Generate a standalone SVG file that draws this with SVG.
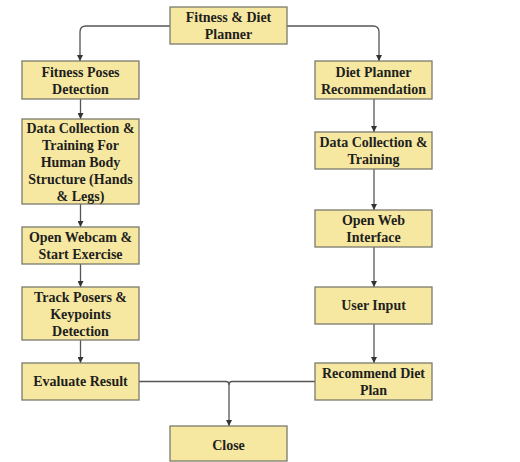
<svg xmlns="http://www.w3.org/2000/svg" width="520" height="462" viewBox="0 0 520 462">
<style>
.box{fill:#F6E8A0;stroke:#7a7a6a;stroke-width:1.3}
.t{font-family:"Liberation Serif","Times New Roman",serif;font-weight:bold;font-size:14px;fill:#1e1e1e;text-anchor:middle;dominant-baseline:central}
.c{fill:none;stroke:#555;stroke-width:1.3}
</style>
<defs>
<marker id="ah" markerUnits="userSpaceOnUse" markerWidth="6" markerHeight="6" refX="6" refY="3" orient="auto">
<path d="M0,0 L6,3 L0,6 z" fill="#333"/>
</marker>
</defs>
<rect width="520" height="462" fill="#fff"/>
<g id="connectors">
<path class="c" d="M170,26 H86 Q80,26 80,32 V61" marker-end="url(#ah)"/>
<path class="c" d="M287,26 H373 Q379,26 379,32 V61" marker-end="url(#ah)"/>
<path class="c" d="M80.5,99 V119" marker-end="url(#ah)"/>
<path class="c" d="M80.5,204 V227" marker-end="url(#ah)"/>
<path class="c" d="M80.5,264 V287" marker-end="url(#ah)"/>
<path class="c" d="M80.5,340 V363" marker-end="url(#ah)"/>
<path class="c" d="M374,99 V132" marker-end="url(#ah)"/>
<path class="c" d="M374,169 V210" marker-end="url(#ah)"/>
<path class="c" d="M374,247 V287" marker-end="url(#ah)"/>
<path class="c" d="M374,324 V363" marker-end="url(#ah)"/>
<path class="c" d="M139,381.5 H226 Q229,381.5 229,385 V426" marker-end="url(#ah)"/>
<path class="c" d="M315,381.5 H232 Q229,381.5 229,385"/>
</g>
<g id="n-top"><rect class="box" x="170" y="7" width="117" height="37"/><text class="t" x="228.5" y="17">Fitness &amp; Diet</text><text class="t" x="228.5" y="34">Planner</text></g>
<g id="n-fpd"><rect class="box" x="22" y="61" width="117" height="38"/><text class="t" x="80.5" y="72">Fitness Poses</text><text class="t" x="80.5" y="89">Detection</text></g>
<g id="n-dc"><rect class="box" x="22" y="119" width="117" height="85"/><text class="t" x="80.5" y="128">Data Collection &amp;</text><text class="t" x="80.5" y="145">Training For</text><text class="t" x="80.5" y="162">Human Body</text><text class="t" x="80.5" y="179">Structure (Hands</text><text class="t" x="80.5" y="196">&amp; Legs)</text></g>
<g id="n-ow"><rect class="box" x="22" y="227" width="117" height="37"/><text class="t" x="80.5" y="237">Open Webcam &amp;</text><text class="t" x="80.5" y="254">Start Exercise</text></g>
<g id="n-tp"><rect class="box" x="22" y="287" width="117" height="53"/><text class="t" x="80.5" y="297">Track Posers &amp;</text><text class="t" x="80.5" y="314">Keypoints</text><text class="t" x="80.5" y="331">Detection</text></g>
<g id="n-er"><rect class="box" x="22" y="363" width="117" height="37"/><text class="t" x="80.5" y="381.5">Evaluate Result</text></g>
<g id="n-dpr"><rect class="box" x="315" y="61" width="117" height="38"/><text class="t" x="373.5" y="72">Diet Planner</text><text class="t" x="373.5" y="89">Recommendation</text></g>
<g id="n-dct"><rect class="box" x="315" y="132" width="117" height="37"/><text class="t" x="373.5" y="142">Data Collection &amp;</text><text class="t" x="373.5" y="159">Training</text></g>
<g id="n-owi"><rect class="box" x="315" y="210" width="117" height="37"/><text class="t" x="373.5" y="220">Open Web</text><text class="t" x="373.5" y="237">Interface</text></g>
<g id="n-ui"><rect class="box" x="315" y="287" width="117" height="37"/><text class="t" x="373.5" y="305.5">User Input</text></g>
<g id="n-rdp"><rect class="box" x="315" y="363" width="117" height="37"/><text class="t" x="373.5" y="373">Recommend Diet</text><text class="t" x="373.5" y="390">Plan</text></g>
<g id="n-close"><rect class="box" x="170" y="426" width="117" height="35"/><text class="t" x="228.5" y="445">Close</text></g>
</svg>
